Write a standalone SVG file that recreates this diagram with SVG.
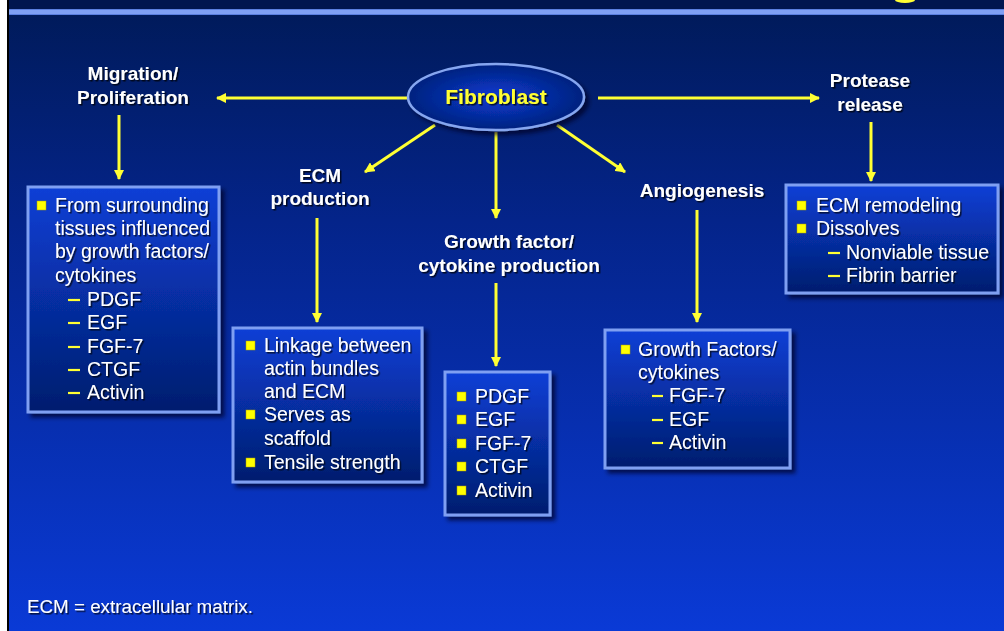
<svg xmlns="http://www.w3.org/2000/svg" width="1004" height="631" viewBox="0 0 1004 631">
<defs>
<linearGradient id="bg" x1="0" y1="0" x2="0" y2="1">
<stop offset="0" stop-color="#001a58"/>
<stop offset="0.35" stop-color="#04248a"/>
<stop offset="1" stop-color="#0a3ad6"/>
</linearGradient>
<linearGradient id="boxg" x1="0" y1="0" x2="0" y2="1">
<stop offset="0" stop-color="#0b3fd6"/>
<stop offset="1" stop-color="#021d6e"/>
</linearGradient>
<radialGradient id="ellg" cx="0.5" cy="0.5" r="0.5">
<stop offset="0" stop-color="#0a3ad2"/>
<stop offset="1" stop-color="#03227e"/>
</radialGradient>
<filter id="sh" x="-10%" y="-10%" width="130%" height="130%">
<feDropShadow dx="4" dy="4" stdDeviation="2" flood-color="#000520" flood-opacity="0.7"/>
</filter>
<filter id="ts" x="-5%" y="-20%" width="115%" height="150%">
<feDropShadow dx="1.5" dy="1.5" stdDeviation="0.4" flood-color="#000000" flood-opacity="0.75"/>
</filter>
<marker id="ah" viewBox="0 0 10 10" refX="9" refY="5" markerWidth="3.5" markerHeight="3.5" orient="auto" markerUnits="strokeWidth">
<path d="M0,0 L10,5 L0,10 Z" fill="#ffff33"/>
</marker>
<style>
.box{fill:url(#boxg);stroke:#7f9ff2;stroke-width:3;filter:url(#sh)}
.lbl{font-family:"Liberation Sans",Arial,sans-serif;font-weight:bold;font-size:19px;fill:#ffffff;text-anchor:middle;filter:url(#ts)}
.t{font-family:"Liberation Sans",Arial,sans-serif;font-size:19.5px;fill:#ffffff;filter:url(#ts)}
.bul{fill:#ffff00;stroke:#b0a000;stroke-width:0.5}
.dash{stroke:#ffff33;stroke-width:2.2}
.arr{stroke:#ffff33;stroke-width:3;fill:none;marker-end:url(#ah)}
</style>
</defs>
<rect x="0" y="0" width="1004" height="631" fill="url(#bg)"/>
<rect x="0" y="0" width="1004" height="15" fill="#001650"/>
<rect x="0" y="9" width="1004" height="6" fill="#5a7fe0"/>
<rect x="0" y="10" width="1004" height="4" fill="#7fa0f4"/>
<ellipse cx="905" cy="0" rx="10" ry="3" fill="#ffff33"/>
<rect x="0" y="0" width="7" height="631" fill="#ffffff"/>
<rect x="7" y="0" width="2" height="631" fill="#000000"/>

<g id="connectors">
<line class="arr" x1="408" y1="98" x2="217" y2="98"/>
<line class="arr" x1="598" y1="98" x2="819" y2="98"/>
<line class="arr" x1="435" y1="125" x2="365" y2="172"/>
<line class="arr" x1="496" y1="132" x2="496" y2="218"/>
<line class="arr" x1="557" y1="125" x2="625" y2="172"/>
<line class="arr" x1="119" y1="115" x2="119" y2="179"/>
<line class="arr" x1="317" y1="218" x2="317" y2="322"/>
<line class="arr" x1="496" y1="283" x2="496" y2="366"/>
<line class="arr" x1="697" y1="210" x2="697" y2="322"/>
<line class="arr" x1="871" y1="122" x2="871" y2="181"/>
</g>

<g id="fibroblast">
<ellipse cx="496" cy="97" rx="88" ry="33" fill="url(#ellg)" stroke="#86a6f0" stroke-width="2.5" filter="url(#sh)"/>
<text x="496" y="104" class="lbl" style="fill:#ffff33;font-size:21px">Fibroblast</text>
</g>

<g id="migration">
<text class="lbl" x="133" y="80">Migration/</text>
<text class="lbl" x="133" y="104">Proliferation</text>
</g>
<g id="ecm-production">
<text class="lbl" x="320" y="182">ECM</text>
<text class="lbl" x="320" y="205">production</text>
</g>
<g id="growth-factor">
<text class="lbl" x="509" y="248">Growth factor/</text>
<text class="lbl" x="509" y="272">cytokine production</text>
</g>
<g id="angiogenesis">
<text class="lbl" x="702" y="197">Angiogenesis</text>
</g>
<g id="protease">
<text class="lbl" x="870" y="87">Protease</text>
<text class="lbl" x="870" y="111">release</text>
</g>

<g id="box-migration">
<rect class="box" x="28" y="187" width="191" height="225"/>
<rect class="bul" x="37" y="201" width="9" height="9"/>
<text class="t" x="55" y="212">From surrounding</text>
<text class="t" x="55" y="235">tissues influenced</text>
<text class="t" x="55" y="258">by growth factors/</text>
<text class="t" x="55" y="282">cytokines</text>
<line class="dash" x1="68" y1="300" x2="80" y2="300"/><text class="t" x="87" y="306">PDGF</text>
<line class="dash" x1="68" y1="323" x2="80" y2="323"/><text class="t" x="87" y="329">EGF</text>
<line class="dash" x1="68" y1="347" x2="80" y2="347"/><text class="t" x="87" y="353">FGF-7</text>
<line class="dash" x1="68" y1="370" x2="80" y2="370"/><text class="t" x="87" y="376">CTGF</text>
<line class="dash" x1="68" y1="393" x2="80" y2="393"/><text class="t" x="87" y="399">Activin</text>
</g>

<g id="box-ecm">
<rect class="box" x="233" y="328" width="189" height="154"/>
<rect class="bul" x="246" y="341" width="9" height="9"/>
<text class="t" x="264" y="352">Linkage between</text>
<text class="t" x="264" y="375">actin bundles</text>
<text class="t" x="264" y="398">and ECM</text>
<rect class="bul" x="246" y="410" width="9" height="9"/>
<text class="t" x="264" y="421">Serves as</text>
<text class="t" x="264" y="445">scaffold</text>
<rect class="bul" x="246" y="458" width="9" height="9"/>
<text class="t" x="264" y="469">Tensile strength</text>
</g>

<g id="box-growth">
<rect class="box" x="445" y="372" width="105" height="143"/>
<rect class="bul" x="457" y="392" width="9" height="9"/><text class="t" x="475" y="403">PDGF</text>
<rect class="bul" x="457" y="415" width="9" height="9"/><text class="t" x="475" y="426">EGF</text>
<rect class="bul" x="457" y="439" width="9" height="9"/><text class="t" x="475" y="450">FGF-7</text>
<rect class="bul" x="457" y="462" width="9" height="9"/><text class="t" x="475" y="473">CTGF</text>
<rect class="bul" x="457" y="486" width="9" height="9"/><text class="t" x="475" y="497">Activin</text>
</g>

<g id="box-angio">
<rect class="box" x="605" y="330" width="185" height="138"/>
<rect class="bul" x="621" y="345" width="9" height="9"/>
<text class="t" x="638" y="356">Growth Factors/</text>
<text class="t" x="638" y="379">cytokines</text>
<line class="dash" x1="652" y1="396" x2="663" y2="396"/><text class="t" x="669" y="402">FGF-7</text>
<line class="dash" x1="652" y1="420" x2="663" y2="420"/><text class="t" x="669" y="426">EGF</text>
<line class="dash" x1="652" y1="443" x2="663" y2="443"/><text class="t" x="669" y="449">Activin</text>
</g>

<g id="box-protease">
<rect class="box" x="786" y="185" width="212" height="108"/>
<rect class="bul" x="797" y="201" width="9" height="9"/><text class="t" x="816" y="212">ECM remodeling</text>
<rect class="bul" x="797" y="224" width="9" height="9"/><text class="t" x="816" y="235">Dissolves</text>
<line class="dash" x1="828" y1="253" x2="840" y2="253"/><text class="t" x="846" y="259">Nonviable tissue</text>
<line class="dash" x1="828" y1="276" x2="840" y2="276"/><text class="t" x="846" y="282">Fibrin barrier</text>
</g>

<g id="footer">
<text class="t" x="27" y="613" style="font-size:18.8px">ECM = extracellular matrix.</text>
</g>
</svg>
